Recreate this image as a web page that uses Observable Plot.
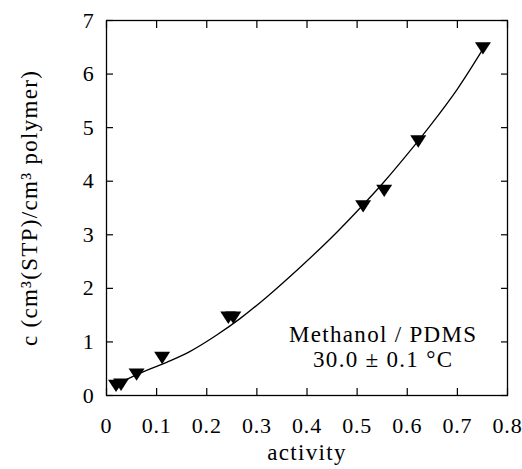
<!DOCTYPE html>
<html>
<head>
<meta charset="utf-8">
<script src="https://cdn.jsdelivr.net/npm/d3@7"></script>
<script src="https://cdn.jsdelivr.net/npm/@observablehq/plot@0.6"></script>
<style>
  html, body { margin: 0; padding: 0; background: white; }
  svg { display: block; }
  svg text { font-family: "Liberation Serif", serif !important; }
</style>
</head>
<body>
<div id="chart"></div>
<script>
// Measured points (activity, concentration)
const pointActivity = [0.019, 0.029, 0.060, 0.111, 0.243, 0.253, 0.512, 0.554, 0.622, 0.751];
const pointConc     = [0.18, 0.20, 0.39, 0.70, 1.45, 1.45, 3.53, 3.82, 4.74, 6.48];

// Fitted curve
const curveActivity = [0.02, 0.06, 0.12, 0.166, 0.22, 0.267, 0.321, 0.387, 0.447, 0.514, 0.553, 0.613, 0.647, 0.70, 0.75];
const curveConc     = [0.20, 0.39, 0.62, 0.82, 1.13, 1.44, 1.85, 2.40, 2.93, 3.58, 3.98, 4.65, 5.05, 5.72, 6.45];

const xTicks = [0, 0.1, 0.2, 0.3, 0.4, 0.5, 0.6, 0.7, 0.8];
const yTicks = [0, 1, 2, 3, 4, 5, 6, 7];

const xLabel = "activity";
const yLabel = "c (cm³(STP)/cm³ polymer)";
const annotation = "Methanol / PDMS\n30.0 ± 0.1 °C";
const annotationX = 0.552;
const annotationY = 0.92;

const points = pointActivity.map((a, i) => ({a, c: pointConc[i]}));
const curve = curveActivity.map((a, i) => ({a, c: curveConc[i]}));

const triangleDown = {
  draw(context, size) {
    context.moveTo(-8, -6.2);
    context.lineTo(8, -6.2);
    context.lineTo(0, 6.2);
    context.closePath();
  }
};

const fmtX = d => d === 0 ? "0" : d3.format(".1f")(d);
const noText = () => "";

const plot = Plot.plot({
  width: 522,
  height: 469,
  marginLeft: 106,
  marginRight: 15,
  marginTop: 20,
  marginBottom: 74,
  style: {fontFamily: "'Liberation Serif', serif", fontSize: "22px", color: "black", background: "white", overflow: "visible"},
  x: {domain: [0, 0.8]},
  y: {domain: [0, 7]},
  marks: [
    Plot.frame({stroke: "black", strokeWidth: 1.3}),
    Plot.axisX(xTicks, {tickSize: 0, tickPadding: 22, tickFormat: fmtX, label: null, fontSize: 22}),
    Plot.axisX(xTicks, {tickSize: -7, tickFormat: noText, label: null, strokeWidth: 1.2}),
    Plot.axisX(xTicks, {anchor: "top", tickSize: -7, tickFormat: noText, label: null, strokeWidth: 1.2}),
    Plot.axisY(yTicks, {tickSize: 0, tickPadding: 12, tickFormat: d3.format("d"), label: null, fontSize: 22}),
    Plot.axisY(yTicks, {tickSize: -7, tickFormat: noText, label: null, strokeWidth: 1.2}),
    Plot.axisY(yTicks, {anchor: "right", tickSize: -7, tickFormat: noText, label: null, strokeWidth: 1.2}),
    Plot.line(curve, {x: "a", y: "c", stroke: "black", strokeWidth: 1.3, curve: "catmull-rom"}),
    Plot.dot(points, {x: "a", y: "c", symbol: triangleDown, fill: "black", stroke: "none"}),
    Plot.text([annotation], {x: annotationX, y: annotationY, text: d => d, fontSize: 23, lineHeight: 1.1, textAnchor: "middle", fill: "black"}),
    Plot.text([xLabel], {frameAnchor: "bottom", text: d => d, dy: 64, lineAnchor: "bottom", textAnchor: "middle", fontSize: 23, fill: "black"}),
    Plot.text([yLabel], {frameAnchor: "left", text: d => d, rotate: -90, dx: -77, textAnchor: "middle", lineAnchor: "middle", fontSize: 23, fill: "black"})
  ]
});

const svg = d3.select(plot);
svg.selectAll("text").attr("font-family", "Liberation Serif, serif");
svg.selectAll("g[aria-label$='tick label']").attr("font-size", 22).attr("letter-spacing", "0.8");
svg.selectAll("g[aria-label='text'] text").attr("letter-spacing", "1.3");
document.getElementById("chart").appendChild(plot);
</script>
</body>
</html>
